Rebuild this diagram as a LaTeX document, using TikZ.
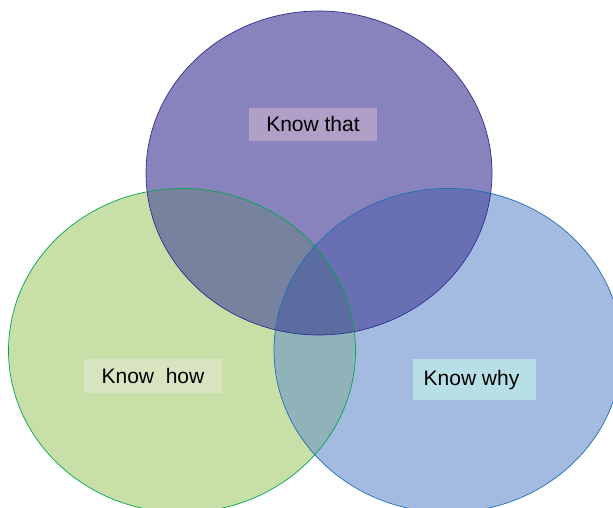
\documentclass[tikz,border=0pt]{standalone}
\usepackage{fontspec}
\setmainfont{Liberation Sans}
\usepackage{tikz}

\definecolor{thatfill}{HTML}{8883BC}
\definecolor{thatline}{HTML}{2E3192}
\definecolor{howfill}{HTML}{C8E0A7}
\definecolor{howline}{HTML}{00A651}
\definecolor{whyfill}{HTML}{A3BBE0}
\definecolor{whyline}{HTML}{1F6FB4}
\definecolor{thathow}{HTML}{77829E}
\definecolor{thatwhy}{HTML}{6870B3}
\definecolor{howwhy}{HTML}{90B3BA}
\definecolor{allthree}{HTML}{5B6CA0}
\definecolor{thatbox}{HTML}{B0A0C8}
\definecolor{howbox}{HTML}{D8E4C0}
\definecolor{whybox}{HTML}{B8DFE6}

\begin{document}
\begin{tikzpicture}[x=1pt,y=1pt,
  label/.style={inner sep=0pt,font=\fontsize{21}{25}\selectfont}]

\useasboundingbox (0,0) rectangle (613,508);

%% circles
\fill[howfill] (182,157.5) ellipse (173.5 and 162);
\fill[whyfill] (448,157.5) ellipse (174 and 162);
\fill[thatfill] (319,335) ellipse (173 and 162);

%% overlaps
\begin{scope}
\clip (319,335) ellipse (173 and 162);
\fill[thathow] (182,157.5) ellipse (173.5 and 162);
\fill[thatwhy] (448,157.5) ellipse (174 and 162);
\end{scope}
\begin{scope}
\clip (182,157.5) ellipse (173.5 and 162);
\fill[howwhy] (448,157.5) ellipse (174 and 162);
\clip (448,157.5) ellipse (174 and 162);
\fill[allthree] (319,335) ellipse (173 and 162);
\end{scope}

%%% outlines
\draw[howline,line width=0.7pt] (182,157.5) ellipse (173.5 and 162);
\draw[whyline,line width=0.7pt] (448,157.5) ellipse (174 and 162);
\draw[thatline,line width=0.7pt] (319,335) ellipse (173 and 162);

%% labels
\fill[thatbox] (249,367) rectangle (377,400);
\node[label] (that) at (313,383.5) {Know that};
\fill[howbox] (84,115) rectangle (222,149);
\node[label] (how) at (153,132) {Know~~how};
\fill[whybox] (413,108) rectangle (536,149);
\node[label] (why) at (471.5,128) {Know why};

\end{tikzpicture}
\end{document}
